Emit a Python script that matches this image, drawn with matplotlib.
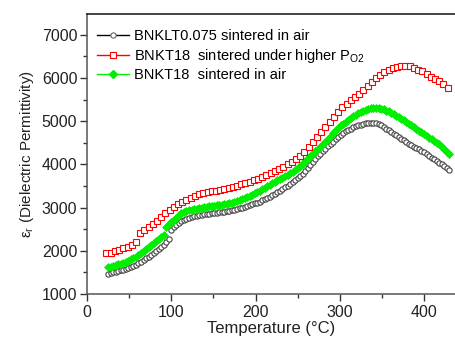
import matplotlib
matplotlib.use("Agg")
import matplotlib.pyplot as plt
from matplotlib.lines import Line2D
from matplotlib.ticker import MultipleLocator

plt.rcParams['font.family'] = ['Liberation Sans', 'DejaVu Sans']

# temperature grids (degC)
temp_red = [23, 28, 33, 38, 43, 48, 53, 58, 63, 68, 73, 78, 83, 88, 93, 98,
            103, 108, 113, 118, 123, 128, 133, 138, 143, 148, 153, 158, 163,
            168, 173, 178, 183, 188, 193, 198, 203, 208, 213, 218, 223, 228,
            233, 238, 243, 248, 253, 258, 263, 268, 273, 278, 283, 288, 293,
            298, 303, 308, 313, 318, 323, 328, 333, 338, 343, 348, 353, 358,
            363, 368, 373, 378, 383, 388, 393, 398, 403, 408, 413, 418, 423, 428]

temp_air = [25, 28, 31, 34, 37, 40, 43, 46, 49, 52, 55, 58, 61, 64, 67, 70,
            73, 76, 79, 82, 85, 88, 91, 94, 97, 100, 103, 106, 109, 112, 115,
            118, 121, 124, 127, 130, 133, 136, 139, 142, 145, 148, 151, 154,
            157, 160, 163, 166, 169, 172, 175, 178, 181, 184, 187, 190, 193,
            196, 199, 202, 205, 208, 211, 214, 217, 220, 223, 226, 229, 232,
            235, 238, 241, 244, 247, 250, 253, 256, 259, 262, 265, 268, 271,
            274, 277, 280, 283, 286, 289, 292, 295, 298, 301, 304, 307, 310,
            313, 316, 319, 322, 325, 328, 331, 334, 337, 340, 343, 346, 349,
            352, 355, 358, 361, 364, 367, 370, 373, 376, 379, 382, 385, 388,
            391, 394, 397, 400, 403, 406, 409, 412, 415, 418, 421, 424, 427, 430]

# BNKT18 sintered under higher PO2
eps_red = [1940, 1960, 1990, 2025, 2060, 2095, 2140, 2200, 2420, 2480, 2540,
           2620, 2700, 2785, 2870, 2950, 3020, 3085, 3135, 3180, 3220, 3260,
           3310, 3340, 3360, 3375, 3390, 3410, 3430, 3450, 3475, 3505, 3535,
           3565, 3600, 3635, 3665, 3705, 3750, 3795, 3845, 3890, 3945, 4000,
           4055, 4120, 4190, 4290, 4400, 4510, 4625, 4745, 4860, 4975, 5095,
           5215, 5320, 5405, 5485, 5560, 5635, 5720, 5815, 5905, 5990, 6070,
           6130, 6185, 6225, 6260, 6278, 6280, 6268, 6235, 6195, 6150, 6085,
           6025, 5975, 5925, 5850, 5770]

# BNKLT0.075 sintered in air
eps_black = [1465, 1480, 1500, 1520, 1535, 1550, 1565, 1585, 1605, 1625, 1650,
             1680, 1715, 1750, 1790, 1825, 1865, 1905, 1950, 1995, 2040, 2085,
             2135, 2195, 2270, 2480, 2540, 2595, 2650, 2690, 2720, 2745, 2765,
             2780, 2795, 2810, 2825, 2835, 2845, 2855, 2862, 2870, 2878, 2885,
             2895, 2900, 2907, 2915, 2925, 2938, 2950, 2965, 2980, 2998, 3015,
             3035, 3055, 3075, 3095, 3115, 3140, 3165, 3190, 3220, 3250, 3280,
             3315, 3350, 3390, 3425, 3465, 3505, 3545, 3590, 3635, 3680, 3725,
             3785, 3850, 3920, 3990, 4060, 4125, 4190, 4250, 4310, 4365, 4420,
             4470, 4525, 4580, 4630, 4690, 4730, 4765, 4800, 4830, 4860, 4885,
             4905, 4920, 4935, 4950, 4960, 4963, 4960, 4950, 4930, 4900, 4865,
             4825, 4785, 4745, 4705, 4670, 4635, 4595, 4555, 4515, 4475, 4440,
             4405, 4375, 4350, 4320, 4280, 4235, 4195, 4155, 4115, 4075, 4040,
             4000, 3955, 3910, 3860]

# BNKT18 sintered in air
eps_green = [1615, 1630, 1650, 1670, 1690, 1705, 1725, 1750, 1775, 1800, 1830,
             1860, 1905, 1950, 2000, 2050, 2095, 2140, 2185, 2230, 2275, 2315,
             2370, 2560, 2620, 2675, 2720, 2770, 2830, 2870, 2895, 2915, 2935,
             2950, 2960, 2970, 2985, 2995, 3010, 3020, 3030, 3040, 3048, 3055,
             3062, 3068, 3077, 3088, 3100, 3115, 3135, 3155, 3180, 3200, 3225,
             3250, 3275, 3300, 3330, 3360, 3390, 3420, 3455, 3490, 3525, 3560,
             3595, 3630, 3665, 3695, 3725, 3755, 3790, 3830, 3870, 3910, 3955,
             4010, 4070, 4130, 4190, 4250, 4305, 4355, 4405, 4465, 4525, 4590,
             4660, 4725, 4785, 4845, 4900, 4945, 4990, 5030, 5070, 5110, 5145,
             5180, 5210, 5240, 5265, 5285, 5300, 5305, 5305, 5300, 5290, 5270,
             5245, 5225, 5200, 5165, 5120, 5090, 5060, 5020, 4980, 4940, 4900,
             4860, 4820, 4780, 4740, 4700, 4660, 4620, 4580, 4540, 4500, 4460,
             4410, 4350, 4290, 4230]

labels = ['BNKLT0.075 sintered in air',
          'BNKT18  sintered under higher P$_{\\mathregular{O2}}$',
          'BNKT18  sintered in air']

fig = plt.figure(figsize=(4.56, 3.40), dpi=100)
ax = fig.add_axes([0.191, 0.1353, 0.809, 0.8235])

ax.plot(temp_red, eps_red, ls='none', marker='s', ms=4.2, mfc='white',
        mec='#ff0000', mew=0.8, zorder=3)
ax.plot(temp_air, eps_green, ls='none', marker='D', ms=3.8, mfc='#00ee00',
        mec='#00ee00', mew=0.5, zorder=2)
ax.plot(temp_air, eps_black, ls='none', marker='o', ms=3.8, mfc='white',
        mec='#444444', mew=0.8, zorder=1)

ax.set_xlim(0, 438)
ax.set_ylim(1000, 7480)
ax.xaxis.set_major_locator(MultipleLocator(100))
ax.xaxis.set_minor_locator(MultipleLocator(50))
ax.yaxis.set_major_locator(MultipleLocator(1000))
ax.yaxis.set_minor_locator(MultipleLocator(500))
ax.tick_params(which='major', direction='out', length=5, width=1,
               labelsize=11.5, colors='#333333', labelcolor='#222222')
ax.tick_params(which='minor', direction='out', length=3, width=1,
               colors='#333333')
ax.tick_params(axis='x', pad=3)
ax.tick_params(axis='y', pad=2)
ax.spines['right'].set_visible(False)
ax.spines['left'].set_color('#555555')
ax.spines['bottom'].set_color('#555555')
ax.spines['top'].set_color('#111111')
for s in ax.spines.values():
    s.set_linewidth(1.1)

ax.set_xlabel('Temperature (\u00b0C)', fontsize=12, color='#222222', labelpad=1)
ax.set_ylabel('\u03b5$_\\mathregular{r}$ (Dielectric Permittivity)', fontsize=11,
              color='#222222', labelpad=4)

handles = [
    Line2D([], [], color='black', lw=1, marker='o', ms=3.8, mfc='white',
           mec='#666666', mew=0.8),
    Line2D([], [], color='#ff0000', lw=1, marker='s', ms=3.8, mfc='white',
           mec='#ff0000', mew=0.8),
    Line2D([], [], color='#00ee00', lw=1, marker='D', ms=4, mfc='#00ee00',
           mec='#00ee00'),
]
ax.legend(handles, labels, loc='upper left', bbox_to_anchor=(-0.005, 0.987),
          frameon=False, fontsize=10.5, handlelength=2.2, handletextpad=0.35,
          labelspacing=0.23, borderaxespad=0.4)

fig.savefig('out.png', dpi=100)
